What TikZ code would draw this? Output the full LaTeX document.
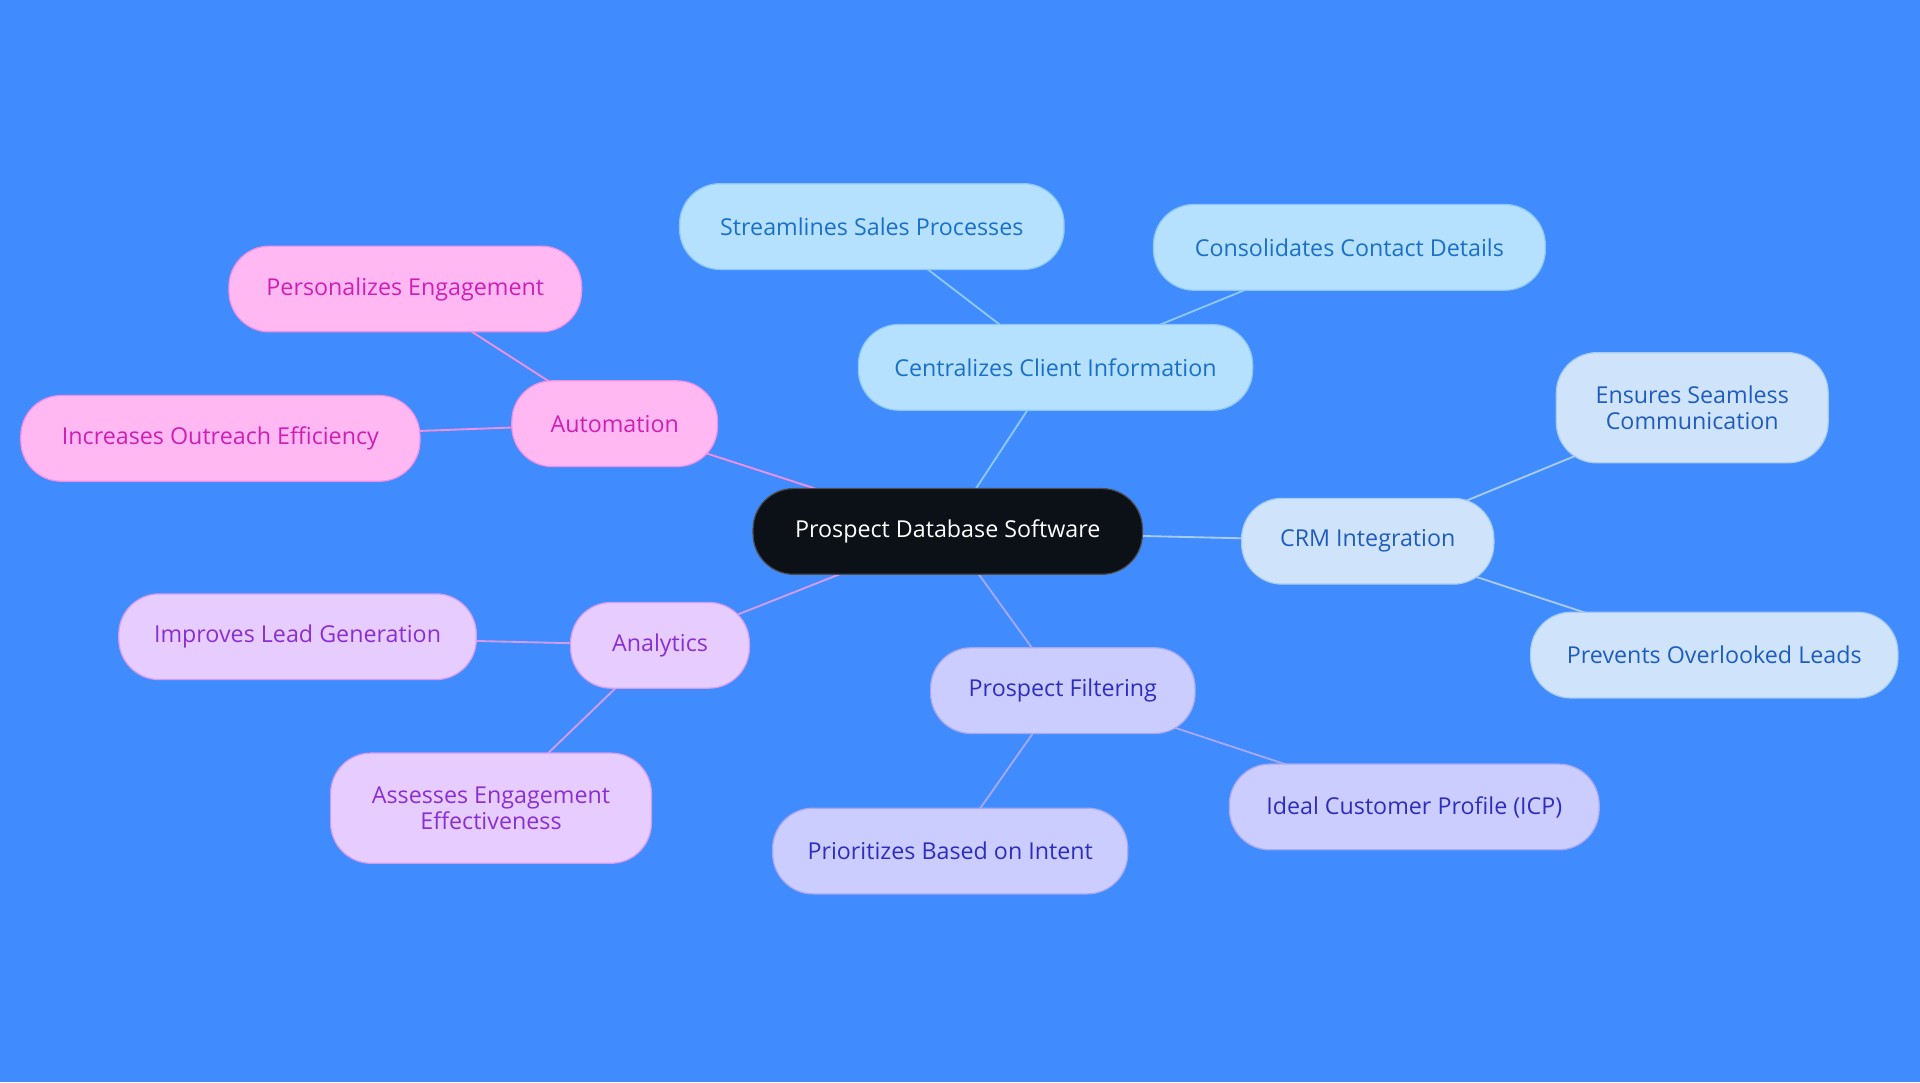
\documentclass[tikz,border=0pt]{standalone}
\usepackage{fontspec}
\setmainfont{Open Sans}
\usetikzlibrary{backgrounds}
\begin{document}
\begin{tikzpicture}[x=1pt,y=-1pt,
 every node/.style={font=\fontsize{19}{21}\selectfont,align=center,rounded corners=33pt,line width=1pt,inner sep=0pt},
 root/.style={fill=rootc,draw=gray!60!black,text=white,minimum height=70pt},
 cb/.style={fill=cbf,draw=cbd,text=cbt,minimum height=70pt},
 crm/.style={fill=crf,draw=crd,text=crt,minimum height=70pt},
 pf/.style={fill=pff,draw=pfd,text=pft,minimum height=70pt},
 an/.style={fill=anf,draw=and,text=ant,minimum height=70pt},
 au/.style={fill=auf,draw=aud,text=aut,minimum height=70pt},
 e/.style={line width=1.5pt}]
\definecolor{bg}{HTML}{408CFF}
\definecolor{rootc}{HTML}{0C1017}
\definecolor{cbf}{HTML}{B5E1FF}\definecolor{cbd}{HTML}{8FC8F5}\definecolor{cbt}{HTML}{1A70C8}
\definecolor{crf}{HTML}{CFE4FA}\definecolor{crd}{HTML}{A8CCF0}\definecolor{crt}{HTML}{1F5CC0}
\definecolor{pff}{HTML}{CBCCFF}\definecolor{pfd}{HTML}{A8A8F0}\definecolor{pft}{HTML}{2E2EBE}
\definecolor{anf}{HTML}{E7CCFF}\definecolor{and}{HTML}{D49CF0}\definecolor{ant}{HTML}{8A2FD2}
\definecolor{auf}{HTML}{FFB8F2}\definecolor{aud}{HTML}{F090E0}\definecolor{aut}{HTML}{CF1FB4}
\useasboundingbox (0,0) rectangle (1568,884);
\node[root,minimum width=318pt] (r) at (774,434) {Prospect Database Software};
\node[cb,minimum width=322pt] (c) at (862,300) {Centralizes Client Information};
\node[cb,minimum width=314pt] (c1) at (712,185) {Streamlines Sales Processes};
\node[cb,minimum width=320pt] (c2) at (1102,202) {Consolidates Contact Details};
\node[crm,minimum width=206pt] (m) at (1117,442) {CRM Integration};
\node[crm,minimum width=222pt,minimum height=90pt] (m1) at (1382,333) {Ensures Seamless\\Communication};
\node[crm,minimum width=300pt] (m2) at (1400,535) {Prevents Overlooked Leads};
\node[pf,minimum width=216pt] (p) at (868,564) {Prospect Filtering};
\node[pf,minimum width=302pt] (p1) at (1155,659) {Ideal Customer Profile (ICP)};
\node[pf,minimum width=290pt] (p2) at (776,695) {Prioritizes Based on Intent};
\node[an,minimum width=146pt] (a) at (539,527) {Analytics};
\node[an,minimum width=292pt] (a1) at (243,520) {Improves Lead Generation};
\node[an,minimum width=262pt,minimum height=90pt] (a2) at (401,660) {Assesses Engagement\\Effectiveness};
\node[au,minimum width=168pt] (u) at (502,346) {Automation};
\node[au,minimum width=288pt] (u1) at (331,236) {Personalizes Engagement};
\node[au,minimum width=326pt] (u2) at (180,358) {Increases Outreach Efficiency};
\begin{scope}[on background layer]
\fill[bg] (0,0) rectangle (1568,884);
\draw[e,cbd] (r.center) -- (c.center); \draw[e,cbd] (c.center) -- (c1.center); \draw[e,cbd] (c.center) -- (c2.center);
\draw[e,crd] (r.center) -- (m.center); \draw[e,crd] (m.center) -- (m1.center); \draw[e,crd] (m.center) -- (m2.center);
\draw[e,pfd] (r.center) -- (p.center); \draw[e,pfd] (p.center) -- (p1.center); \draw[e,pfd] (p.center) -- (p2.center);
\draw[e,and] (r.center) -- (a.center); \draw[e,and] (a.center) -- (a1.center); \draw[e,and] (a.center) -- (a2.center);
\draw[e,aud] (r.center) -- (u.center); \draw[e,aud] (u.center) -- (u1.center); \draw[e,aud] (u.center) -- (u2.center);
\end{scope}
\end{tikzpicture}
\end{document}
